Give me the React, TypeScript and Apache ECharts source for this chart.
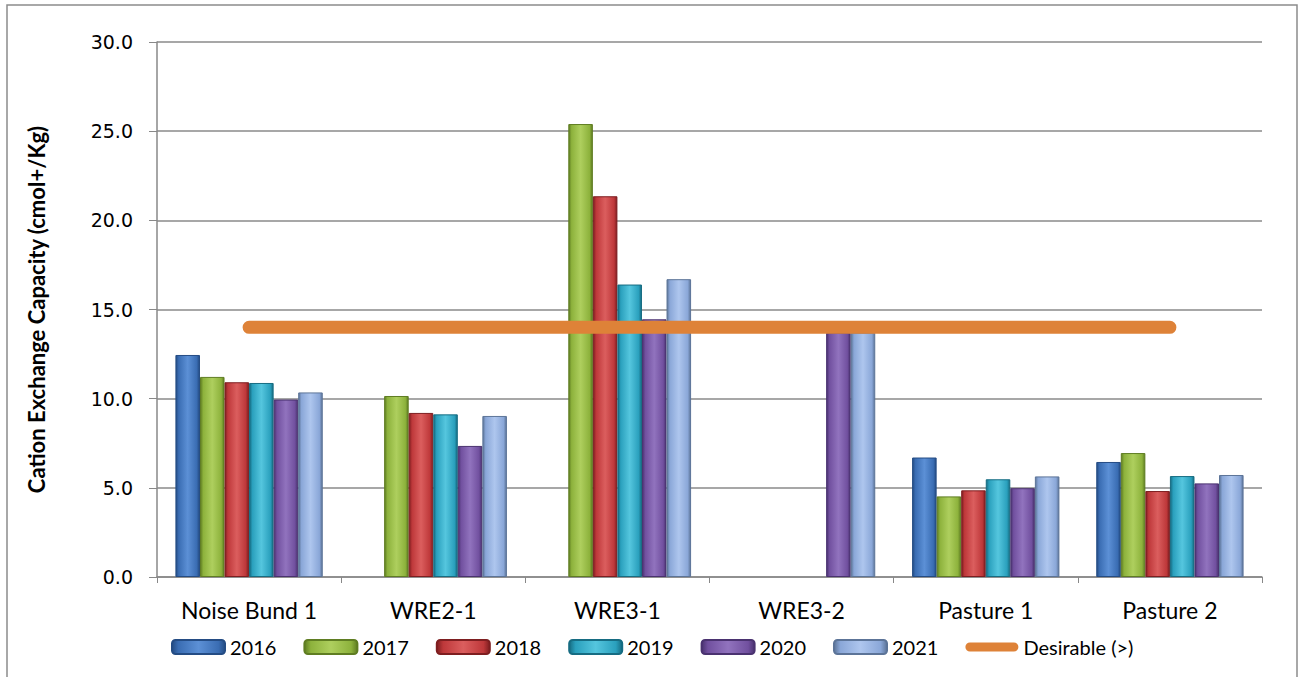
import React, { useEffect, useRef } from "react";
import * as echarts from "echarts";

// Sampling sites on the category axis
const sites = ["Noise Bund 1", "WRE2-1", "WRE3-1", "WRE3-2", "Pasture 1", "Pasture 2"];

// Cation exchange capacity (cmol+/Kg) per year; null = not sampled
const cec2016 = [12.45, null, null, null, 6.7, 6.45];
const cec2017 = [11.22, 10.15, 25.4, null, 4.52, 6.95];
const cec2018 = [10.92, 9.2, 21.35, null, 4.86, 4.82];
const cec2019 = [10.88, 9.12, 16.4, null, 5.48, 5.66];
const cec2020 = [9.95, 7.35, 14.45, 13.7, 4.98, 5.25];
const cec2021 = [10.35, 9.03, 16.7, 13.7, 5.64, 5.72];

// Desirable minimum level
const desirable = [14, 14, 14, 14, 14, 14];

const years = ["2016", "2017", "2018", "2019", "2020", "2021"];
const yearValues = [cec2016, cec2017, cec2018, cec2019, cec2020, cec2021];

// Bar palettes: [edge, body, highlight]
const palettes = [
  ["#244C84", "#3A6DB3", "#5C90D6"],
  ["#5F7D22", "#8DB23C", "#AECF5E"],
  ["#7E1E20", "#BE383A", "#DB5E5E"],
  ["#166C82", "#2AA0BD", "#55C6DE"],
  ["#4A3270", "#71509F", "#9173BE"],
  ["#5C7498", "#8AA7D8", "#AEC6EE"],
];

const catFont = "Lato, 'Open Sans', sans-serif";

function barGradient(p: string[]) {
  return new echarts.graphic.LinearGradient(0, 0, 1, 0, [
    { offset: 0, color: p[0] },
    { offset: 0.12, color: p[1] },
    { offset: 0.5, color: p[2] },
    { offset: 0.88, color: p[1] },
    { offset: 1, color: p[0] },
  ]);
}

export default function App() {
  const ref = useRef<HTMLDivElement>(null);

  useEffect(() => {
    if (!ref.current) return;
    const chart = echarts.init(ref.current, undefined, { renderer: "svg" });

    const barSeries = years.map((y, i) => ({
      name: y,
      type: "bar",
      data: yearValues[i].map((v) => (v === null ? "-" : v)),
      barGap: "0%",
      barCategoryGap: "20%",
      itemStyle: {
        color: barGradient(palettes[i]),
        borderColor: palettes[i][0],
        borderWidth: 1,
      },
      z: 2,
    }));

    chart.setOption({
      animation: false,
      backgroundColor: "#ffffff",
      grid: { left: 157, right: 42, top: 42, bottom: 100, containLabel: false },
      graphic: [
        {
          type: "rect",
          shape: { x: 7, y: 5, width: 1290, height: 700 },
          style: { fill: "none", stroke: "#8c8c8c", lineWidth: 1.5 },
          silent: true,
          z: -1,
        },
      ],
      legend: {
        left: 166,
        top: 632,
        itemWidth: 53,
        itemHeight: 14,
        itemGap: 27,
        textStyle: { fontFamily: catFont, fontSize: 20, color: "#000" },
        data: [
          ...years,
          {
            name: "Desirable (>)",
            icon: "path://M5,0H54A5,5 0 0 1 54,10H5A5,5 0 0 1 5,0Z",
          },
        ],
      },
      xAxis: {
        type: "category",
        data: sites,
        axisLine: { lineStyle: { color: "#888", width: 1.5 } },
        axisTick: { show: true, length: 6, lineStyle: { color: "#888" } },
        axisLabel: { fontFamily: catFont, fontSize: 23, color: "#000", margin: 21 },
      },
      yAxis: {
        type: "value",
        min: 0,
        max: 30,
        interval: 5,
        name: "Cation Exchange Capacity (cmol+/Kg)",
        nameLocation: "middle",
        nameGap: 110,
        nameTextStyle: { fontFamily: catFont, fontSize: 22, fontWeight: "bold", color: "#000" },
        axisLine: { show: true, lineStyle: { color: "#888", width: 1.5 } },
        axisTick: { show: true, length: 8, lineStyle: { color: "#888" } },
        axisLabel: {
          fontFamily: "'DejaVu Sans', Verdana, sans-serif",
          fontSize: 19,
          color: "#000",
          margin: 24,
          formatter: (v: number) => v.toFixed(1),
        },
        splitLine: { lineStyle: { color: "#8a8a8a", width: 1.5 } },
      },
      series: [
        ...barSeries,
        {
          name: "Desirable (>)",
          type: "line",
          data: desirable,
          symbol: "none",
          lineStyle: { color: "#DE8238", width: 13, cap: "round" },
          itemStyle: { color: "#DE8238" },
          z: 5,
        },
      ],
    });

    return () => chart.dispose();
  }, []);

  return (
    <div
      ref={ref}
      style={{ position: "fixed", left: 0, top: 0, width: 1304, height: 677 }}
    />
  );
}
